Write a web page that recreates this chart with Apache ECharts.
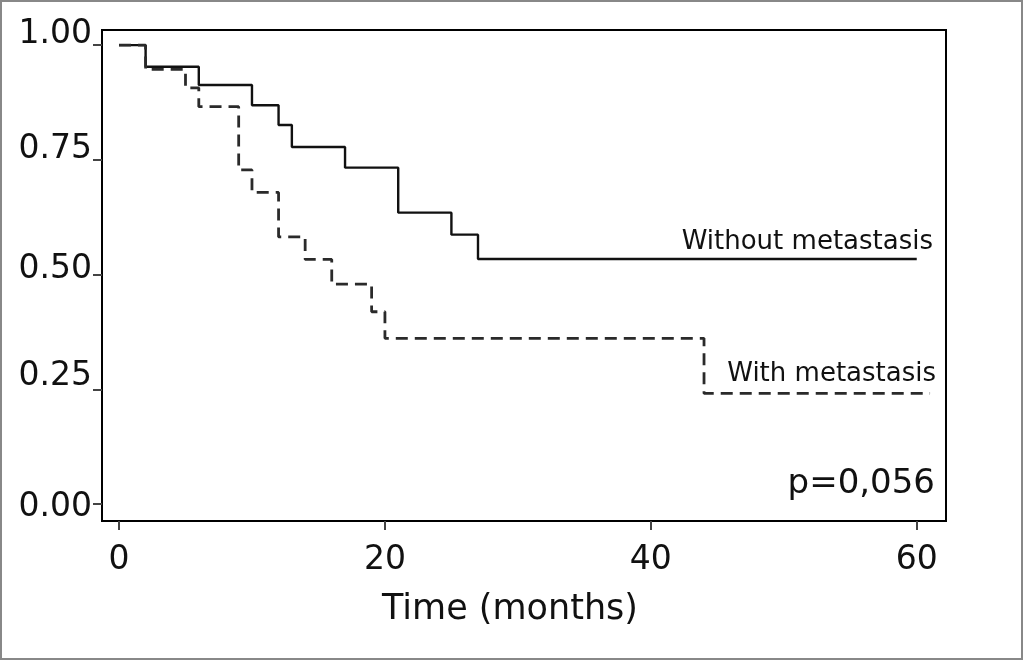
<!DOCTYPE html>
<html>
<head>
<meta charset="utf-8">
<script src="https://cdn.jsdelivr.net/npm/echarts@6/dist/echarts.min.js"></script>
<style>
html,body{margin:0;padding:0;background:#fff;}
#chart{width:1023px;height:660px;}
</style>
</head>
<body>
<div id="chart"></div>
<script>
// ---- data ----
var withoutMetTime = [0, 2, 6, 10, 12, 13, 17, 21, 25, 27, 60];
var withoutMetSurv = [1.00, 0.953, 0.913, 0.869, 0.826, 0.778, 0.733, 0.635, 0.587, 0.534, 0.534];
var withMetTime = [0, 2, 5, 6, 9, 10, 12, 14, 16, 19, 20, 44, 61];
var withMetSurv = [1.00, 0.947, 0.907, 0.866, 0.728, 0.679, 0.582, 0.533, 0.479, 0.419, 0.361, 0.241, 0.241];
var xTicks = [0, 20, 40, 60];
var yTicks = [0, 0.25, 0.5, 0.75, 1];
var seriesNames = ['Without metastasis', 'With metastasis'];
var pText = 'p=0,056';
var xTitle = 'Time (months)';

// ---- styling ----
var FONT = 'DejaVu Sans';
var yLabelShift = {'0.00': -3, '0.25': 13, '0.50': 5, '0.75': 10, '1.00': 11}; // px upward

function pairs(xs, ys) { return xs.map(function (x, i) { return [x, ys[i]]; }); }

var rich = {};
Object.keys(yLabelShift).forEach(function (k) {
  var d = yLabelShift[k];
  rich['r' + k.replace('.', '')] = {
    fontFamily: FONT, fontSize: 33, color: '#111',
    padding: d >= 0 ? [0, 0, 2 * d, 0] : [-2 * d, 0, 0, 0]
  };
});

var chart = echarts.init(document.getElementById('chart'));
chart.setOption({
  animation: false,
  backgroundColor: '#fff',
  grid: {
    left: 102, top: 30, right: 77, bottom: 139,
    show: true, borderColor: '#000', borderWidth: 2, backgroundColor: 'transparent'
  },
  xAxis: {
    type: 'value', min: -1.28, max: 62.2,
    axisLine: {show: false, onZero: false},
    splitLine: {show: false},
    axisTick: {show: true, inside: false, length: 9, customValues: xTicks, lineStyle: {color: '#444', width: 2}},
    axisLabel: {customValues: xTicks, margin: 23, fontFamily: FONT, fontSize: 33, color: '#111'},
    name: xTitle, nameLocation: 'middle', nameGap: 71,
    nameTextStyle: {fontFamily: FONT, fontSize: 35, color: '#111', padding: [0, 28, 0, 0]}
  },
  yAxis: {
    type: 'value', min: -0.037, max: 1.033,
    axisLine: {show: false, onZero: false},
    splitLine: {show: false},
    axisTick: {show: true, inside: false, length: 9, customValues: yTicks, lineStyle: {color: '#444', width: 2}},
    axisLabel: {
      customValues: yTicks, margin: 10,
      formatter: function (v) { var s = v.toFixed(2); return '{r' + s.replace('.', '') + '|' + s + '}'; },
      rich: rich
    }
  },
  series: [
    {
      name: seriesNames[0], type: 'line', step: 'end', symbol: 'none',
      data: pairs(withoutMetTime, withoutMetSurv),
      lineStyle: {color: '#111', width: 2.4}
    },
    {
      name: seriesNames[1], type: 'line', step: 'end', symbol: 'none',
      data: pairs(withMetTime, withMetSurv),
      lineStyle: {color: '#2a2a2a', width: 2.8, type: [12, 7]}
    }
  ],
  graphic: [
    {type: 'rect', shape: {x: 1, y: 1, width: 1021, height: 658}, style: {fill: 'none', stroke: '#888', lineWidth: 2}, silent: true},
    {type: 'text', x: 933, y: 242.5, style: {text: seriesNames[0], font: '26px "DejaVu Sans"', fill: '#111', align: 'right', verticalAlign: 'middle'}},
    {type: 'text', x: 936, y: 374, style: {text: seriesNames[1], font: '26px "DejaVu Sans"', fill: '#111', align: 'right', verticalAlign: 'middle'}},
    {type: 'text', x: 935, y: 484, style: {text: pText, font: '34px "DejaVu Sans"', fill: '#111', align: 'right', verticalAlign: 'middle'}}
  ]
});
</script>
</body>
</html>
